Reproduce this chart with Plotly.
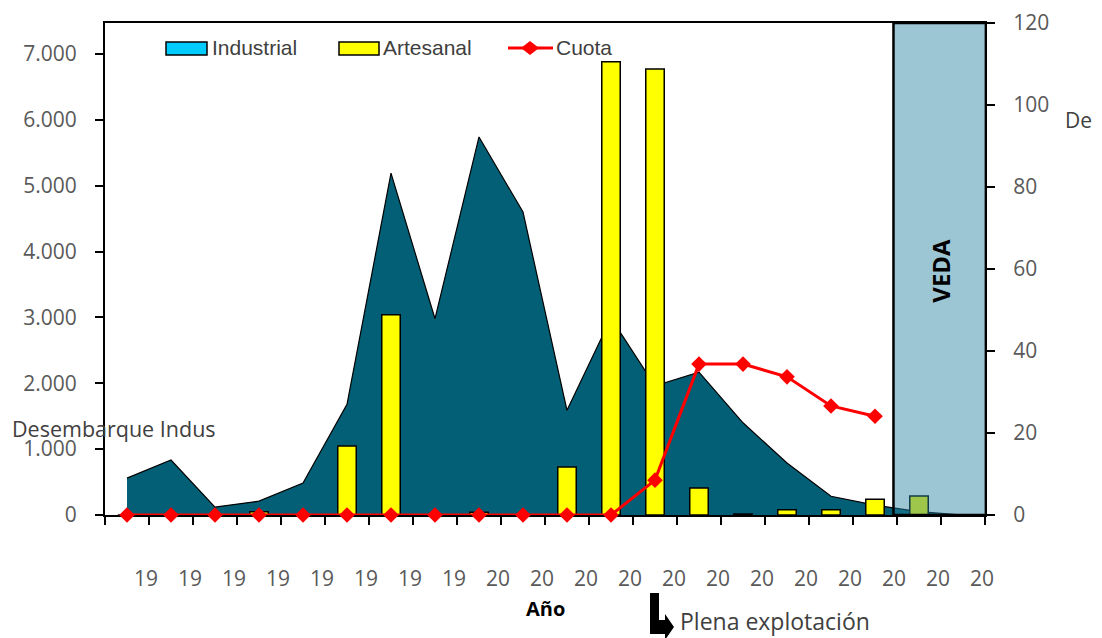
import plotly.graph_objects as go

# ---------------- data ----------------
years = ["1992", "1993", "1994", "1995", "1996", "1997", "1998", "1999",
         "2000", "2001", "2002", "2003", "2004", "2005", "2006", "2007",
         "2008", "2009", "2010", "2011"]
tick_labels = ["19", "19", "19", "19", "19", "19", "19", "19",
               "20", "20", "20", "20", "20", "20", "20", "20",
               "20", "20", "20", "20"]
industrial = [560, 835, 120, 210, 485, 1680, 5190, 2980, 5740, 4600,
              1590, 2990, 1960, 2170, 1400, 790, 285, 150, 50, 0]
artesanal = [0, 0, 0, 50, 0, 1047, 3040, 0, 40, 0,
             730, 6880, 6770, 410, 15, 80, 80, 240, 290, 0]
cuota = [0, 0, 0, 0, 0, 0, 0, 0, 0, 0,
         0, 0, 8.5, 36.8, 36.8, 33.7, 26.6, 24.1, None, None]
left_ticks = [0, 1000, 2000, 3000, 4000, 5000, 6000, 7000]
right_ticks = [0, 20, 40, 60, 80, 100, 120]
LEFT_MAX = 7470
RIGHT_MAX = 120

# ---------------- layout geometry ----------------
# page has an 8px body margin; figure is sized so it fills the window
OFF = 8
FIG_W, FIG_H = 1102 - OFF, 638 - OFF
PL, PT, PW, PH = 105, 23, 880, 492          # plot area in page pixels
L, T = PL - OFF, PT - OFF                    # plot area in figure pixels


def px(x):
    return (x - PL) / PW


def py(y):
    return (PT + PH - y) / PH


TICK_FONT = dict(family="Open Sans", size=21, color="#595959")

fig = go.Figure()

fig.add_trace(go.Scatter(
    x=years, y=industrial, mode="lines", fill="tozeroy", yaxis="y",
    fillcolor="#035f75", line=dict(color="black", width=1.2),
    name="Industrial", showlegend=False))

fig.add_trace(go.Bar(
    x=years, y=artesanal, width=0.42, name="Artesanal", yaxis="y2",
    marker=dict(color="#ffff00", line=dict(color="black", width=1.5)),
    showlegend=False))

fig.add_trace(go.Scatter(
    x=years, y=cuota, mode="lines+markers", yaxis="y3", name="Cuota",
    line=dict(color="#ff0000", width=3), cliponaxis=False,
    marker=dict(symbol="diamond", size=12, color="#ff0000"),
    showlegend=False))

shapes = []
# VEDA box (semi-transparent overlay)
shapes.append(dict(type="rect", xref="x", yref="paper", x0=17.42, x1=19.52,
                   y0=0, y1=1, fillcolor="rgba(41,131,161,0.46)",
                   line=dict(color="black", width=2.5), layer="above"))

# manual legend
shapes.append(dict(type="rect", xref="paper", yref="paper",
                   x0=px(166), x1=px(207), y0=py(55), y1=py(42),
                   fillcolor="#00ccff", line=dict(color="black", width=1.5)))
shapes.append(dict(type="rect", xref="paper", yref="paper",
                   x0=px(339), x1=px(379), y0=py(55), y1=py(42),
                   fillcolor="#ffff00", line=dict(color="black", width=1.5)))
shapes.append(dict(type="line", xref="paper", yref="paper",
                   x0=px(508), x1=px(553), y0=py(48), y1=py(48),
                   line=dict(color="#ff0000", width=3)))
shapes.append(dict(type="path", xref="paper", yref="paper",
                   path="M %f,%f L %f,%f L %f,%f L %f,%f Z" % (
                       px(521), py(48), px(530), py(41), px(539), py(48), px(530), py(55)),
                   fillcolor="#ff0000", line=dict(color="#ff0000", width=0)))

# bent arrow for "Plena explotación"
arrow_pts = [(650, 593), (659, 593), (659, 620), (665, 620), (665, 614),
             (674, 627), (665, 640), (665, 634), (650, 634)]
arrow_path = "M " + " L ".join("%f,%f" % (px(a), py(b)) for a, b in arrow_pts) + " Z"
shapes.append(dict(type="path", xref="paper", yref="paper", path=arrow_path,
                   fillcolor="black", line=dict(color="black", width=0)))

LEG_FONT = dict(family="Liberation Sans", size=21, color="#404040")
annotations = [
    dict(text="Industrial", xref="paper", yref="paper", x=px(210), y=py(47),
         xanchor="left", yanchor="middle", showarrow=False, font=LEG_FONT),
    dict(text="Artesanal", xref="paper", yref="paper", x=px(381), y=py(47),
         xanchor="left", yanchor="middle", showarrow=False, font=LEG_FONT),
    dict(text="Cuota", xref="paper", yref="paper", x=px(554), y=py(47),
         xanchor="left", yanchor="middle", showarrow=False, font=LEG_FONT),
    dict(text="<b>VEDA</b>", xref="x", yref="paper", x=18.47, y=py(271),
         textangle=-90, showarrow=False,
         font=dict(family="Open Sans", size=24, color="black")),
    dict(text="Desembarque Indus", xref="paper", yref="paper", x=px(10), y=py(428),
         xanchor="left", yanchor="middle", showarrow=False,
         font=dict(family="Open Sans", size=21.5, color="#404040")),
    dict(text="De", xref="paper", yref="paper", x=px(1063), y=py(120),
         xanchor="left", yanchor="middle", showarrow=False,
         font=dict(family="Open Sans", size=21, color="#404040")),
    dict(text="<b>Año</b>", xref="paper", yref="paper", x=px(545), y=py(608),
         xanchor="center", yanchor="middle", showarrow=False,
         font=dict(family="Open Sans", size=20, color="black")),
    dict(text="Plena explotación", xref="paper", yref="paper", x=px(678), y=py(621),
         xanchor="left", yanchor="middle", showarrow=False,
         font=dict(family="Open Sans", size=23, color="#404040")),
]

fig.update_layout(
    width=FIG_W, height=FIG_H,
    margin=dict(l=L, r=FIG_W - L - PW, t=T, b=FIG_H - T - PH, pad=0,
                autoexpand=False),
    paper_bgcolor="white", plot_bgcolor="white",
    separators=",.",
    showlegend=False,
    shapes=shapes, annotations=annotations,
    xaxis=dict(type="category", categoryorder="array", categoryarray=years,
               tickmode="array", tickvals=years, ticktext=tick_labels,
               tickson="boundaries", ticks="outside", ticklen=8, tickwidth=1.5,
               tickcolor="black", showline=True, linecolor="black", linewidth=2,
               mirror=True, showgrid=False, zeroline=False, automargin=False,
               layer="below traces",
               range=[-0.5, 19.5], tickfont=TICK_FONT,
               ticklabelshift=19, ticklabelstandoff=44),
    yaxis=dict(range=[0, LEFT_MAX], tickmode="array", tickvals=left_ticks,
               tickformat=",d", ticks="outside", ticklen=8, tickwidth=1.5,
               tickcolor="black", showline=True, linecolor="black", linewidth=2,
               showgrid=False, zeroline=False, tickfont=TICK_FONT,
               automargin=False, ticklabelstandoff=14),
    yaxis2=dict(range=[0, LEFT_MAX], overlaying="y", visible=False,
                showgrid=False, zeroline=False, automargin=False),
    yaxis3=dict(range=[0, RIGHT_MAX], tickmode="array", tickvals=right_ticks,
                overlaying="y", side="right", ticks="outside", ticklen=8,
                tickwidth=1.5, tickcolor="black", showline=True,
                linecolor="black", linewidth=2, showgrid=False, zeroline=False,
                tickfont=TICK_FONT, automargin=False, ticklabelstandoff=14),
)

fig.write_html("out.html")
